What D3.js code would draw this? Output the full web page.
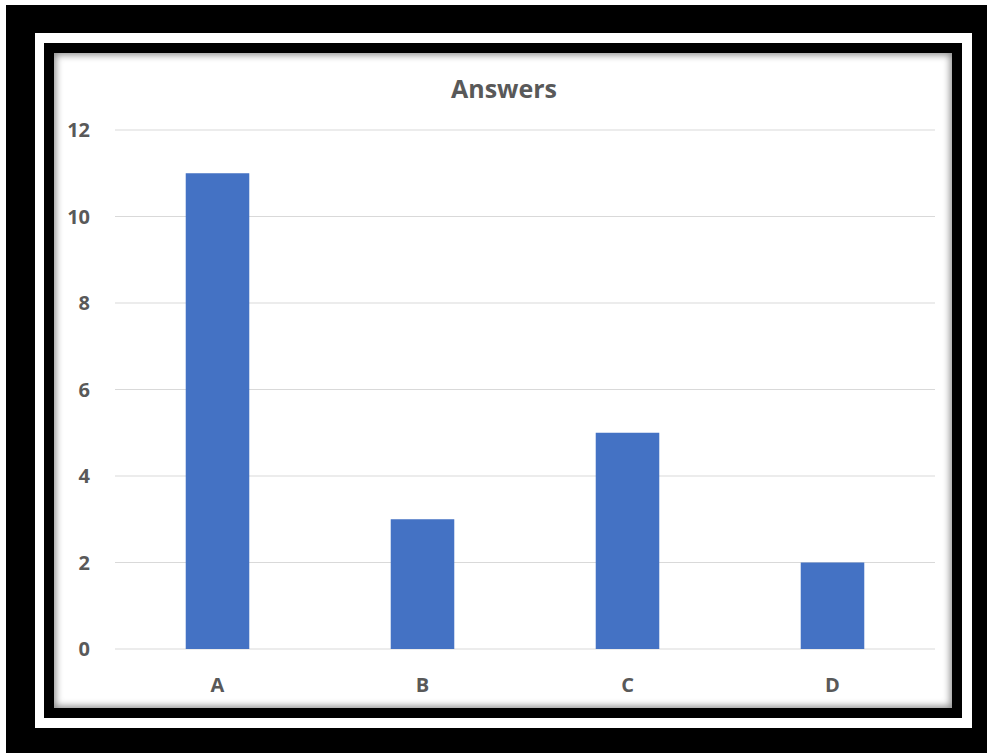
<!DOCTYPE html>
<html>
<head>
    <style>
        body { margin: 0; background: #fff; }
        #frame {
            position: absolute; left: 6px; top: 5px; width: 981px; height: 748px;
            background: #000;
        }
        #band {
            position: absolute; left: 29px; top: 28px; width: 937px; height: 695px;
            background: #fff;
        }
        #inner {
            position: absolute; left: 9px; top: 10px; width: 918px; height: 675px;
            background: #000;
        }
        #chart {
            position: absolute; left: 10px; top: 10px; width: 898px; height: 655px;
            background: #fff;
            box-shadow: inset 0 0 7px 2px rgba(0, 0, 0, 0.45);
        }
        svg { position: absolute; left: 0; top: 0; }
        text { font-family: "Open Sans", "Liberation Sans", sans-serif; font-weight: bold; fill: #595959; }
    </style>
    <script src="https://d3js.org/d3.v7.min.js"></script>
</head>
<body>
    <div id="frame"><div id="band"><div id="inner"><div id="chart"></div></div></div></div>

    <script>
        const categories = ["A", "B", "C", "D"];
        const values = [11, 3, 5, 2];
        const yTicks = [0, 2, 4, 6, 8, 10, 12];
        const title = "Answers";

        // chart div sits at page (54,53); coordinates below are inside it
        const width = 898, height = 655;
        const margin = { top: 77, right: 17, bottom: 59, left: 61 };
        const plotW = width - margin.left - margin.right;
        const plotH = height - margin.top - margin.bottom;

        const svg = d3.select("#chart").append("svg")
            .attr("width", width)
            .attr("height", height);

        const g = svg.append("g")
            .attr("transform", `translate(${margin.left},${margin.top})`);

        const x = d3.scaleBand()
            .domain(categories)
            .range([0, plotW])
            .paddingInner(0.69)
            .paddingOuter(0.345);

        const y = d3.scaleLinear()
            .domain([0, 12])
            .range([plotH, 0]);

        // gridlines
        g.selectAll(".grid")
            .data(yTicks)
            .enter()
            .append("line")
            .attr("x1", 0)
            .attr("x2", plotW)
            .attr("y1", d => y(d))
            .attr("y2", d => y(d))
            .attr("stroke", "#d9d9d9")
            .attr("stroke-width", 1);

        // y tick labels
        g.selectAll(".ylab")
            .data(yTicks)
            .enter()
            .append("text")
            .attr("x", -25)
            .attr("y", d => y(d))
            .attr("dy", "0.35em")
            .attr("text-anchor", "end")
            .style("font-size", "20px")
            .text(d => d);

        // bars
        g.selectAll(".bar")
            .data(values)
            .enter()
            .append("rect")
            .attr("class", "bar")
            .attr("x", (d, i) => x(categories[i]))
            .attr("y", d => y(d))
            .attr("width", x.bandwidth())
            .attr("height", d => plotH - y(d))
            .attr("fill", "#4472c4");

        // x labels
        g.selectAll(".xlab")
            .data(categories)
            .enter()
            .append("text")
            .attr("x", d => x(d) + x.bandwidth() / 2)
            .attr("y", plotH + 36)
            .attr("dy", "0.35em")
            .attr("text-anchor", "middle")
            .style("font-size", "20px")
            .text(d => d);

        // title
        svg.append("text")
            .attr("x", width / 2 + 1)
            .attr("y", 36)
            .attr("dy", "0.35em")
            .attr("text-anchor", "middle")
            .style("font-size", "25px")
            .text(title);
    </script>
</body>
</html>
